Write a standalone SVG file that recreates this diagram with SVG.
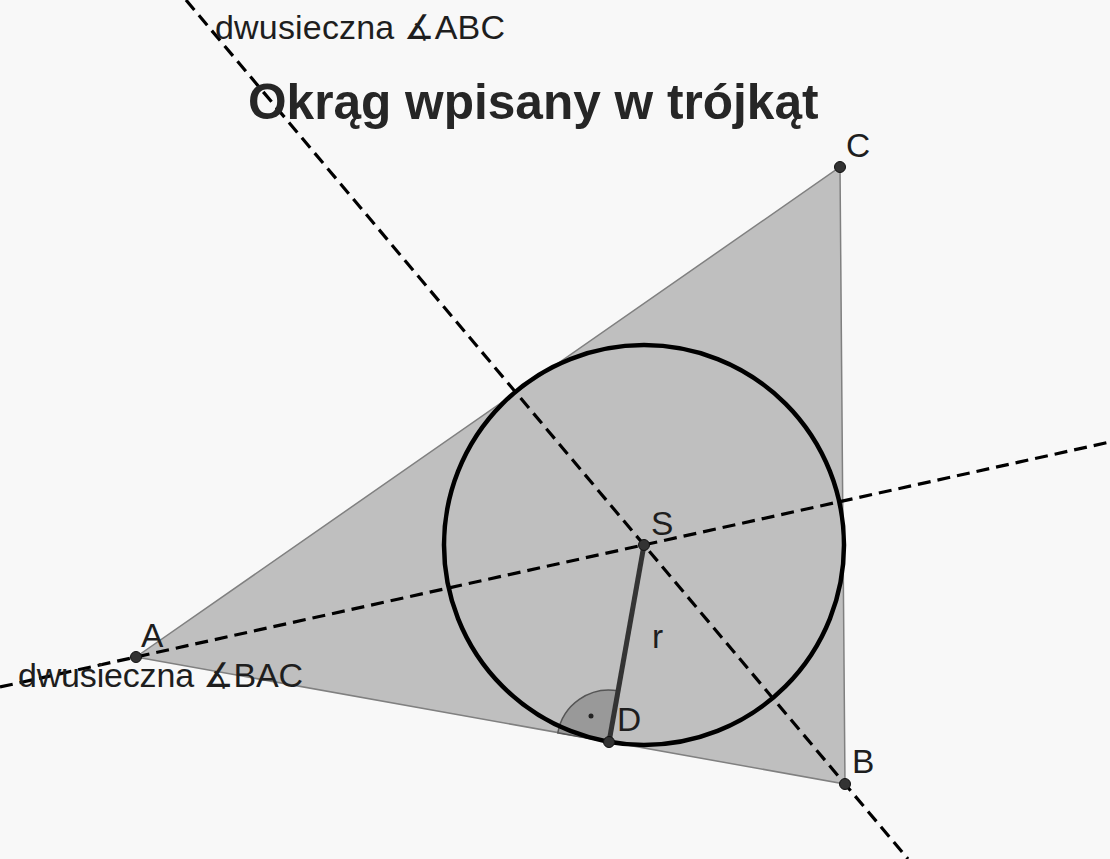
<svg xmlns="http://www.w3.org/2000/svg" width="1110" height="859" viewBox="0 0 1110 859">
<style>
.lbl{font-family:"Liberation Sans","DejaVu Sans",Arial,sans-serif;font-size:33.5px;fill:#1e1e1e}
.wide{font-size:34px}
.title{font-family:"Liberation Sans",Arial,sans-serif;font-size:49.6px;font-weight:bold;fill:#262626}
.dash{stroke:#000;stroke-width:3.2;stroke-dasharray:13 7;fill:none}
.pt{fill:#333;stroke:#111;stroke-width:1}
</style>
<rect x="0" y="0" width="1110" height="859" fill="#f8f8f8"/>
<g id="triangle">
<polygon points="136,657 845,784 840,167" fill="#bfbfbf" stroke="#808080" stroke-width="1.5"/>
</g>
<g id="angle-D">
<path d="M609,742 L557.8,732.8 A52,52 0 0 1 618.1,690.8 Z" fill="#999" stroke="#555" stroke-width="1.5"/>
<circle cx="591" cy="716" r="2.5" fill="#222"/>
</g>
<g id="incircle">
<circle cx="644" cy="545" r="200" fill="none" stroke="#000" stroke-width="4.5"/>
</g>
<g id="connectors">
<line class="dash" x1="186" y1="0" x2="908" y2="859"/>
<line class="dash" x1="0" y1="687" x2="1110" y2="442"/>
<line x1="644" y1="545" x2="609" y2="742" stroke="#333" stroke-width="5"/>
</g>
<g id="point-A"><circle class="pt" cx="136" cy="657" r="5.5"/><text class="lbl" x="141" y="647">A</text></g>
<g id="point-B"><circle class="pt" cx="845" cy="784" r="5.5"/><text class="lbl" x="852" y="773">B</text></g>
<g id="point-C"><circle class="pt" cx="840" cy="167" r="5.5"/><text class="lbl" x="846" y="157">C</text></g>
<g id="point-S"><circle class="pt" cx="644" cy="545" r="5.5"/><text class="lbl" x="651" y="535">S</text></g>
<g id="point-D"><circle class="pt" cx="609" cy="742" r="5.5"/><text class="lbl" x="617" y="731">D</text></g>
<g id="label-r"><text class="lbl" x="652" y="648">r</text></g>
<g id="label-bisector-ABC"><text class="lbl wide" x="215" y="39" textLength="290">dwusieczna ∡ABC</text></g>
<g id="label-bisector-BAC"><text class="lbl wide" x="18" y="687" textLength="285">dwusieczna ∡BAC</text></g>
<g id="title"><text class="title" x="248" y="119">Okrąg wpisany w trójkąt</text></g>
</svg>
